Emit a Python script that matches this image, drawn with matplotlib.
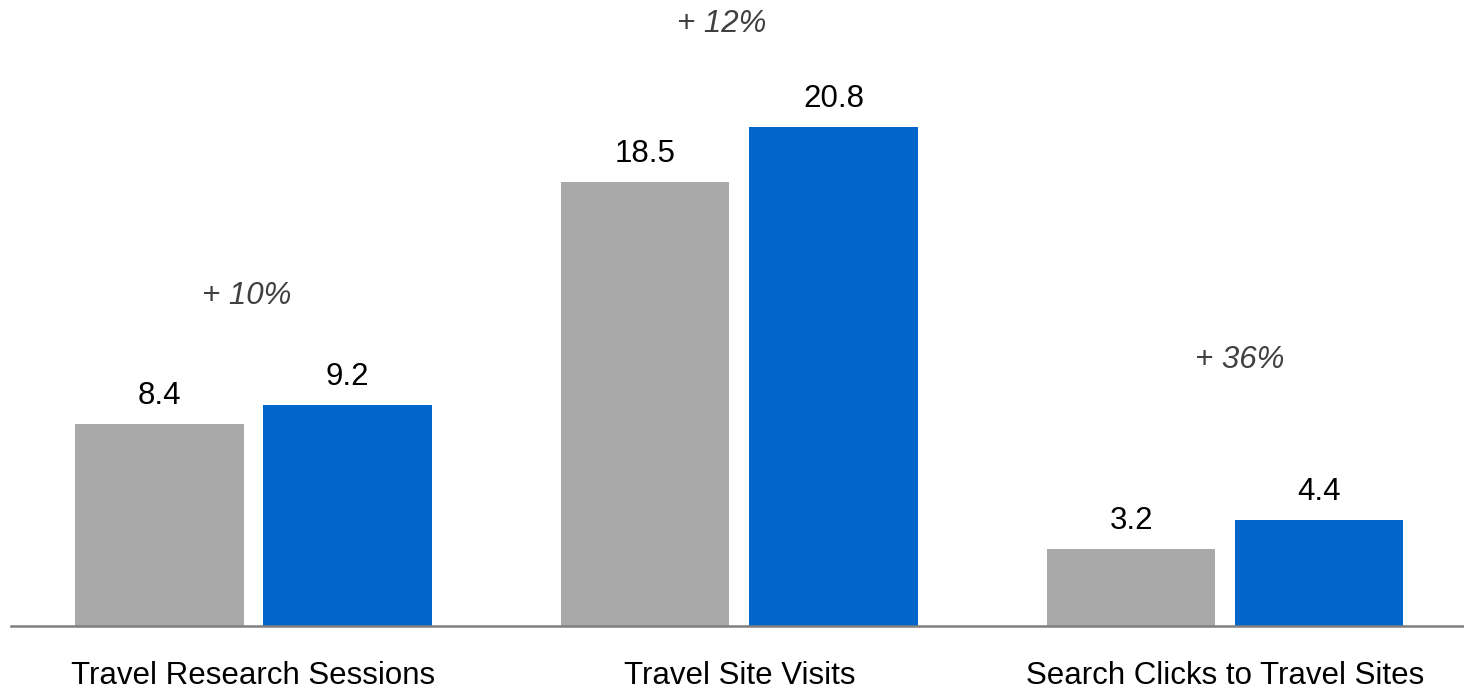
import matplotlib.pyplot as plt
import numpy as np

#### data
categories = ["Travel Research Sessions", "Travel Site Visits", "Search Clicks to Travel Sites"]
before = [8.4, 18.5, 3.2]
after = [9.2, 20.8, 4.4]
growth = ["+ 10%", "+ 12%", "+ 36%"]

#### style
plt.rcParams['font.family'] = ['Liberation Sans', 'DejaVu Sans']
grey = "#A9A9A9"
blue = "#0066CC"
width = 0.346
offset = 0.1935
fs = 22.5
# where the growth labels sit (x shift from group centre, y in data units)
growth_pos = [(-0.013, 13.75), (-0.037, 25.1), (0.03, 11.1)]

fig = plt.figure(figsize=(14.64, 6.9), dpi=100)
ax = fig.add_axes([0.0075, 0.0928, 0.9925, 0.9072])

x = np.arange(len(categories))
b1 = ax.bar(x - offset, before, width, color=grey)
b2 = ax.bar(x + offset, after, width, color=blue)

for bars in (b1, b2):
    for rect in bars:
        h = rect.get_height()
        ax.annotate(f"{h:.1f}", (rect.get_x() + rect.get_width() / 2, h),
                    xytext=(0, 14.5), textcoords="offset points",
                    ha="center", va="baseline", fontsize=fs, color="black")

for i, txt in enumerate(growth):
    dx, y = growth_pos[i]
    ax.text(x[i] + dx, y, txt, ha="center", va="center", fontsize=fs,
            style="italic", color="#404040")

ax.set_xlim(-0.499, 2.491)
ax.set_ylim(0, 26.08)
ax.set_xticks(x)
ax.set_xticklabels(categories, fontsize=fs)
ax.tick_params(axis="x", length=0, pad=25)
ax.set_yticks([])
for s in ("top", "right", "left"):
    ax.spines[s].set_visible(False)
ax.spines["bottom"].set_color("#808080")
ax.spines["bottom"].set_linewidth(1.8)

fig.savefig("out.png", dpi=100)
